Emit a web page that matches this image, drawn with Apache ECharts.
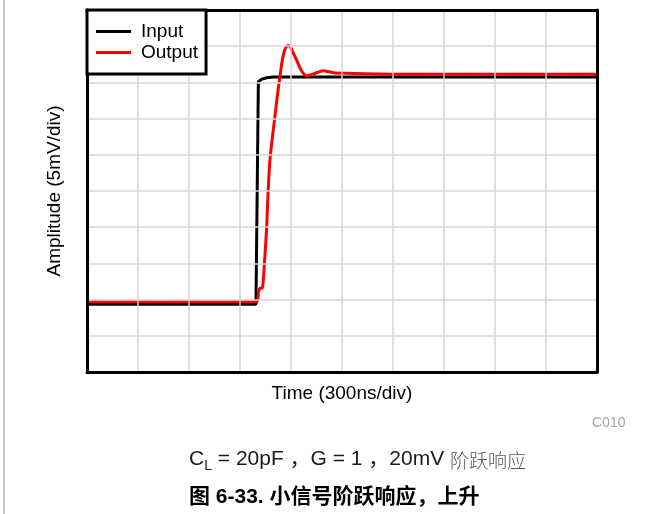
<!DOCTYPE html>
<html>
<head>
<meta charset="utf-8">
<script src="https://cdn.jsdelivr.net/npm/echarts@6/dist/echarts.min.js"></script>
<style>
  html, body { margin: 0; padding: 0; background: #fff; }
  #chart { width: 662px; height: 514px; }
</style>
</head>
<body>
<div id="chart"></div>
<script>
// Small-signal step response, rising edge (time in ns, amplitude in mV)
const seriesNames = ['Input', 'Output'];

const inputTime = [0, 994, 1008, 1028, 1057, 1096, 3000];
const inputAmp  = [9.35, 9.35, 40.1, 40.45, 40.65, 40.75, 40.75];

const outputTime = [0, 998, 1009, 1018, 1031, 1045, 1057, 1065, 1076, 1098, 1122, 1149, 1162, 1173, 1184, 1195, 1207, 1233, 1259, 1292, 1331, 1390, 1449, 1518, 1841, 3000];
const outputAmp  = [9.7, 9.7, 11.05, 11.56, 11.56, 15.47, 20.07, 24.72, 29.28, 33.88, 38.54, 43.09, 44.4, 44.95, 45.1, 44.95, 44.4, 43.09, 41.71, 40.88, 41.16, 41.62, 41.34, 41.26, 41.12, 41.12];

const timeTicks = { min: 0, max: 3000, step: 300 };   // 300 ns/div
const ampTicks  = { min: 0, max: 50, step: 5 };       // 5 mV/div

const xName = 'Time (300ns/div)';
const yName = 'Amplitude (5mV/div)';
const plotCode = 'C010';
const conditionText = ['C', 'L', ' = 20pF ，G = 1 ，20mV ', '阶跃响应'];
const figureTitle = '图 6-33. 小信号阶跃响应，上升';

const FONT = "'Liberation Sans', Arial, 'Noto Sans CJK SC', sans-serif";
const CJK_FONT = "'Noto Sans CJK SC', sans-serif";

const zip = (xs, ys) => xs.map((x, i) => [x, ys[i]]);

const hidden = { show: false };
const frameLine = { show: true, onZero: false, lineStyle: { color: '#000', width: 3 } };
const gridLines = { show: true, showMinLine: false, showMaxLine: false, lineStyle: { color: '#d6d6d6', width: 1.5 } };

const chart = echarts.init(document.getElementById('chart'), null, { renderer: 'canvas' });

chart.setOption({
  animation: false,
  backgroundColor: '#fff',
  grid: { left: 87, top: 10, right: 65, bottom: 142 },
  legend: {
    orient: 'vertical',
    left: 87, top: 10,
    padding: [12, 8, 12, 9],
    itemGap: 2,
    itemWidth: 35, itemHeight: 3,
    icon: 'rect',
    borderColor: '#000', borderWidth: 3, borderRadius: 0, backgroundColor: '#fff',
    textStyle: { fontFamily: FONT, fontSize: 19, color: '#000', lineHeight: 19, padding: [0, 0, 0, 5] },
    data: seriesNames,
    z: 10
  },
  xAxis: [
    {
      type: 'value', position: 'bottom',
      min: timeTicks.min, max: timeTicks.max, interval: timeTicks.step,
      name: xName, nameLocation: 'middle', nameGap: 12,
      nameTextStyle: { fontFamily: FONT, fontSize: 19, color: '#000' },
      axisLine: frameLine, axisTick: hidden, axisLabel: hidden,
      splitLine: gridLines, z: 5
    },
    {
      type: 'value', position: 'top',
      min: timeTicks.min, max: timeTicks.max, interval: timeTicks.step,
      axisLine: frameLine, axisTick: hidden, axisLabel: hidden, splitLine: hidden, z: 5
    }
  ],
  yAxis: [
    {
      type: 'value', position: 'left',
      min: ampTicks.min, max: ampTicks.max, interval: ampTicks.step,
      name: yName, nameLocation: 'middle', nameGap: 23,
      nameTextStyle: { fontFamily: FONT, fontSize: 19, color: '#000' },
      axisLine: frameLine, axisTick: hidden, axisLabel: hidden,
      splitLine: gridLines, z: 5
    },
    {
      type: 'value', position: 'right',
      min: ampTicks.min, max: ampTicks.max, interval: ampTicks.step,
      axisLine: frameLine, axisTick: hidden, axisLabel: hidden, splitLine: hidden, z: 5
    }
  ],
  series: [
    {
      name: seriesNames[0], type: 'line', symbol: 'none', z: 3,
      xAxisIndex: 0, yAxisIndex: 0,
      lineStyle: { color: '#000', width: 3 }, itemStyle: { color: '#000' },
      data: zip(inputTime, inputAmp)
    },
    {
      name: seriesNames[1], type: 'line', symbol: 'none', z: 4, smooth: 0.2,
      xAxisIndex: 0, yAxisIndex: 0,
      lineStyle: { color: '#ff0000', width: 3 }, itemStyle: { color: '#ff0000' },
      data: zip(outputTime, outputAmp)
    }
  ],
  graphic: [
    { type: 'line', shape: { x1: 4, y1: 0, x2: 4, y2: 514 }, style: { stroke: '#8c8c8c', lineWidth: 1 } },
    { type: 'text', left: 592, top: 416,
      style: { text: plotCode, fontFamily: FONT, fontSize: 14, fill: '#a6a6a6' } },
    { type: 'text', left: 189, top: 449,
      style: {
        text: '{c|' + conditionText[0] + '}{s|' + conditionText[1] + '}{c|' + conditionText[2] + '}{g|' + conditionText[3] + '}',
        rich: {
          c: { fontFamily: FONT, fontSize: 21, fill: '#1a1a1a', verticalAlign: 'bottom' },
          s: { fontFamily: FONT, fontSize: 14, fill: '#1a1a1a', padding: [0, 0, -3, 0], verticalAlign: 'bottom' },
          g: { fontFamily: CJK_FONT, fontSize: 19, fontWeight: 300, fill: '#555', verticalAlign: 'bottom' }
        }
      } },
    { type: 'text', left: 189, top: 487,
      style: { text: figureTitle, fontFamily: "'Liberation Sans', 'Noto Sans CJK SC', sans-serif", fontSize: 21, fontWeight: 'bold', fill: '#000' } }
  ]
});
</script>
</body>
</html>
